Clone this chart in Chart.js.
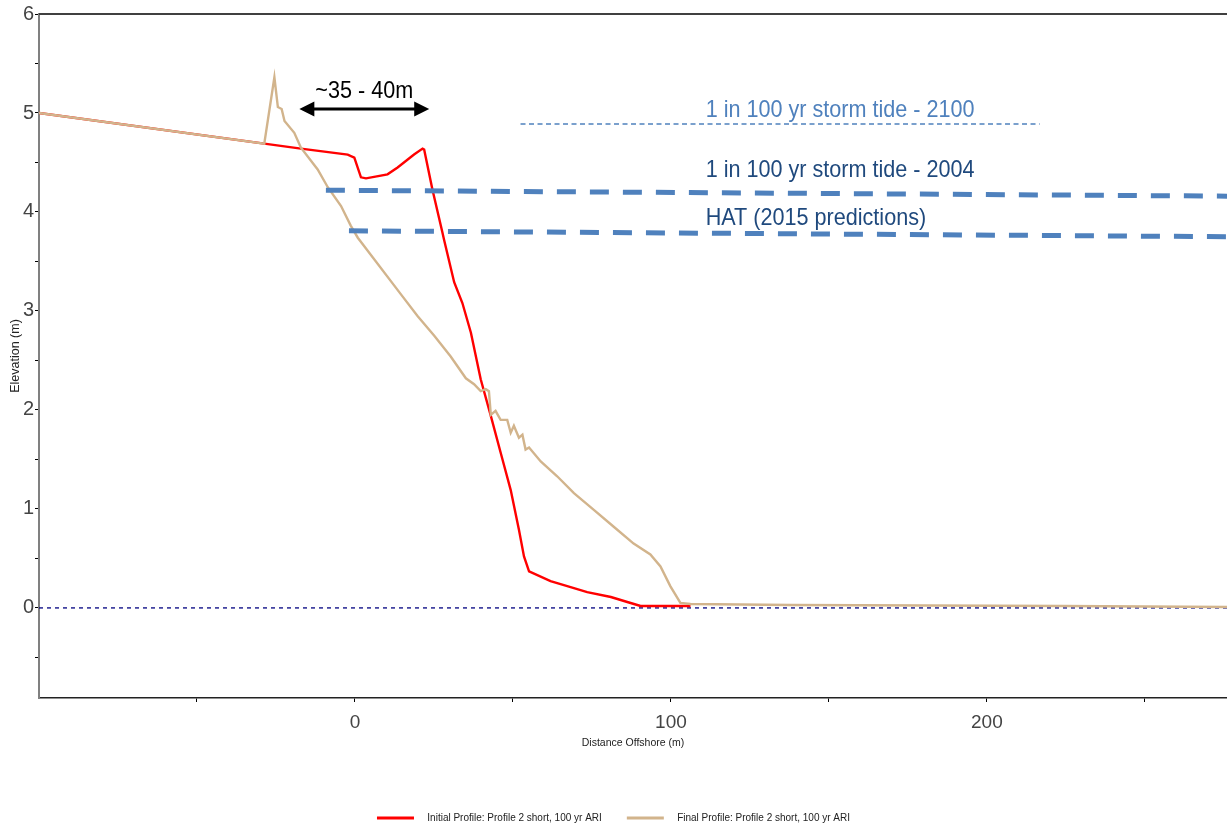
<!DOCTYPE html>
<html>
<head>
<meta charset="utf-8">
<title>Profile 2 short - 100 yr ARI</title>
<script src="https://cdn.jsdelivr.net/npm/chart.js@4.4.0/dist/chart.umd.min.js"></script>
<style>
    html, body { margin: 0; padding: 0; background: #fff; }
</style>
</head>
<body>
<canvas id="profileChart" width="1227" height="831"></canvas>
<script>
// Beach profile, distance offshore (m) vs elevation (m)
const initialX = [-100, -28.7, -17.1, -2.3, -0.2, 1.9, 3.5, 10.3, 13.5, 18.7, 21.4, 21.9, 24.5, 27.7,
                  28.2, 31.4, 34.0, 36.7, 39.8, 43.0, 46.1, 49.3, 51.9, 53.5, 55.1, 61.9, 67.2, 73.5,
                  81.0, 86.2, 90.4, 106.2];
const initialY = [5.00, 4.69, 4.64, 4.58, 4.55, 4.35, 4.34, 4.38, 4.45, 4.58, 4.64, 4.63, 4.23, 3.79,
                  3.72, 3.29, 3.08, 2.78, 2.31, 1.94, 1.57, 1.19, 0.79, 0.52, 0.37, 0.27, 0.22, 0.16,
                  0.11, 0.06, 0.02, 0.02];

const finalX = [-100, -28.7, -25.5, -24.4, -23.2, -22.3, -19.2, -17.1, -11.8, -8.6, -4.4, -1.3, 0.9,
                14.5, 19.8, 25.1, 30.3, 35.1, 37.7, 39.8, 41.4, 42.4, 43.0, 44.5, 46.1, 48.2, 49.3,
                50.3, 51.9, 53.0, 54.0, 55.1, 58.8, 64.0, 69.3, 75.6, 81.9, 88.2, 93.5, 96.7, 99.8,
                103.0, 106.2, 138, 224, 276];
const finalY = [5.00, 4.69, 5.36, 5.06, 5.04, 4.92, 4.80, 4.65, 4.43, 4.25, 4.06, 3.86, 3.74,
                3.17, 2.95, 2.75, 2.54, 2.32, 2.26, 2.19, 2.21, 2.19, 1.95, 1.99, 1.90, 1.90, 1.77,
                1.84, 1.72, 1.75, 1.60, 1.62, 1.48, 1.33, 1.16, 0.99, 0.82, 0.65, 0.54, 0.42, 0.22,
                0.05, 0.04, 0.03, 0.02, 0.01];

// water levels
const tide2100X = [52.4, 216.7];
const tide2100Y = [4.89, 4.89];
const tide2004X = [-9.2, 276];
const tide2004Y = [4.22, 4.16];
const hatX = [-1.9, 276];
const hatY = [3.81, 3.75];
const datumX = [-100, 276];
const datumY = [0, 0];

const levelText = ['1 in 100 yr storm tide - 2100', '1 in 100 yr storm tide - 2004', 'HAT (2015 predictions)'];
const levelTextX = 111;
const levelTextY = [4.96, 4.35, 3.87];

const erosionText = '~35 - 40m';
const erosionX = [-17.6, 23.5];
const erosionY = 5.04;
const erosionTextY = 5.15;

const xTicks = [-50, 0, 50, 100, 150, 200, 250];
const yTicks = [-0.5, 0, 0.5, 1, 1.5, 2, 2.5, 3, 3.5, 4, 4.5, 5, 5.5, 6];

const SANS = '"Liberation Sans", Arial, sans-serif';
const LEVEL_BLUE = '#4f81bd';
const LEVEL_TEXT = ['#4f81bd', '#1f497d', '#1f497d'];

const pts = (xs, ys) => xs.map((x, i) => ({ x, y: ys[i] }));

// narrow lettering: squeeze the regular face horizontally
function narrowText(ctx, text, px, py, squeeze) {
    ctx.save();
    ctx.translate(px, py);
    ctx.scale(squeeze, 1);
    ctx.fillText(text, 0, 0);
    ctx.restore();
}

const annotations = {
    id: 'annotations',
    beforeInit(chart) {
        // fixed legend strip so the x axis reaches down to it
        const fit = chart.legend.fit;
        chart.legend.fit = function () {
            fit.call(this);
            this.height = 43;
        };
    },
    afterDatasetsDraw(chart) {
        const { ctx, chartArea, scales: { x, y } } = chart;
        ctx.save();

        ctx.strokeStyle = '#404040';
        ctx.lineWidth = 2;
        ctx.beginPath();
        ctx.moveTo(chartArea.left, chartArea.top);
        ctx.lineTo(chartArea.right, chartArea.top);
        ctx.stroke();

        ctx.font = `24px ${SANS}`;
        ctx.textAlign = 'left';
        ctx.textBaseline = 'alphabetic';
        levelText.forEach((text, i) => {
            ctx.fillStyle = LEVEL_TEXT[i];
            narrowText(ctx, text, x.getPixelForValue(levelTextX), y.getPixelForValue(levelTextY[i]), 0.9);
        });

        const x0 = x.getPixelForValue(erosionX[0]);
        const x1 = x.getPixelForValue(erosionX[1]);
        const ya = y.getPixelForValue(erosionY);
        const head = 15, half = 7.5;
        ctx.strokeStyle = '#000';
        ctx.fillStyle = '#000';
        ctx.lineWidth = 3;
        ctx.beginPath();
        ctx.moveTo(x0 + head - 2, ya);
        ctx.lineTo(x1 - head + 2, ya);
        ctx.stroke();
        ctx.beginPath();
        ctx.moveTo(x0, ya);
        ctx.lineTo(x0 + head, ya - half);
        ctx.lineTo(x0 + head, ya + half);
        ctx.closePath();
        ctx.moveTo(x1, ya);
        ctx.lineTo(x1 - head, ya - half);
        ctx.lineTo(x1 - head, ya + half);
        ctx.closePath();
        ctx.fill();

        ctx.textAlign = 'center';
        narrowText(ctx, erosionText, (x0 + x1) / 2, y.getPixelForValue(erosionTextY), 0.9);

        ctx.restore();
    },
};

new Chart(document.getElementById('profileChart').getContext('2d'), {
    type: 'line',
    data: {
        datasets: [
            {
                label:           'Initial Profile: Profile 2 short, 100 yr ARI',
                data:            pts(initialX, initialY),
                borderColor:     '#ff0000',
                backgroundColor: '#ff0000',
                borderWidth:     2.4,
                order:           2,
            },
            {
                label:           'Final Profile: Profile 2 short, 100 yr ARI',
                data:            pts(finalX, finalY),
                borderColor:     '#d2b48c',
                backgroundColor: '#d2b48c',
                borderWidth:     2.4,
                order:           1,
            },
            {
                label:       'datum',
                data:        pts(datumX, datumY),
                borderColor: '#000080',
                borderWidth: 1.3,
                borderDash:  [4, 4],
                order:       3,
            },
            {
                label:       'tide 2100',
                data:        pts(tide2100X, tide2100Y),
                borderColor: LEVEL_BLUE,
                borderWidth: 1.5,
                borderDash:  [5, 3.5],
                order:       0,
            },
            {
                label:       'tide 2004',
                data:        pts(tide2004X, tide2004Y),
                borderColor: LEVEL_BLUE,
                borderWidth: 5,
                borderDash:  [19, 14],
                order:       0,
            },
            {
                label:       'HAT',
                data:        pts(hatX, hatY),
                borderColor: LEVEL_BLUE,
                borderWidth: 5,
                borderDash:  [19, 14],
                order:       0,
            },
        ],
    },
    options: {
        responsive: false,
        animation:  false,
        events:     [],
        layout: { padding: { top: 14, right: 0, bottom: 0, left: 0 } },
        elements: {
            point: { radius: 0 },
            line:  { tension: 0, borderCapStyle: 'butt' },
        },
        scales: {
            x: {
                type: 'linear',
                min:  -100,
                max:  276,
                afterBuildTicks: scale => { scale.ticks = xTicks.map(value => ({ value })); },
                afterFit:        scale => { scale.height = 90; },
                grid:   { drawOnChartArea: false, drawTicks: true, tickLength: 4, color: '#000' },
                border: { color: '#222', width: 1.5 },
                ticks: {
                    padding:     9,
                    maxRotation: 0,
                    color:       '#444',
                    font:        { family: SANS, size: 19 },
                    callback:    value => (value % 100 === 0 ? String(value) : ''),
                },
                title: {
                    display: true,
                    text:    'Distance Offshore (m)',
                    color:   '#222',
                    font:    { family: SANS, size: 10.5 },
                    padding: { top: 0, bottom: 39 },
                },
            },
            y: {
                type: 'linear',
                min:  -0.91,
                max:  6,
                afterBuildTicks: scale => { scale.ticks = yTicks.map(value => ({ value })); },
                afterFit:        scale => { scale.width = 39; },
                grid:   { drawOnChartArea: false, drawTicks: true, tickLength: 4, color: '#000' },
                border: { color: '#808080', width: 2 },
                ticks: {
                    padding:  1,
                    color:    '#444',
                    font:     { family: SANS, size: 20 },
                    callback: value => (Number.isInteger(value) ? String(value) : ''),
                },
                title: {
                    display: true,
                    text:    'Elevation (m)',
                    color:   '#222',
                    font:    { family: SANS, size: 12.5 },
                    padding: { top: 8, bottom: 0 },
                },
            },
        },
        plugins: {
            tooltip: { enabled: false },
            legend: {
                position: 'bottom',
                labels: {
                    boxWidth:  37,
                    boxHeight: 3,
                    padding:   25,
                    color:     '#222',
                    font:      { family: SANS, size: 10 },
                    filter:    item => item.datasetIndex < 2,
                    sort:      (a, b) => a.datasetIndex - b.datasetIndex,
                    generateLabels: chart =>
                        Chart.defaults.plugins.legend.labels.generateLabels(chart)
                            .map(item => ({ ...item, text: '   ' + item.text, lineWidth: 0 })),
                },
            },
        },
    },
    plugins: [annotations],
});
</script>
</body>
</html>
